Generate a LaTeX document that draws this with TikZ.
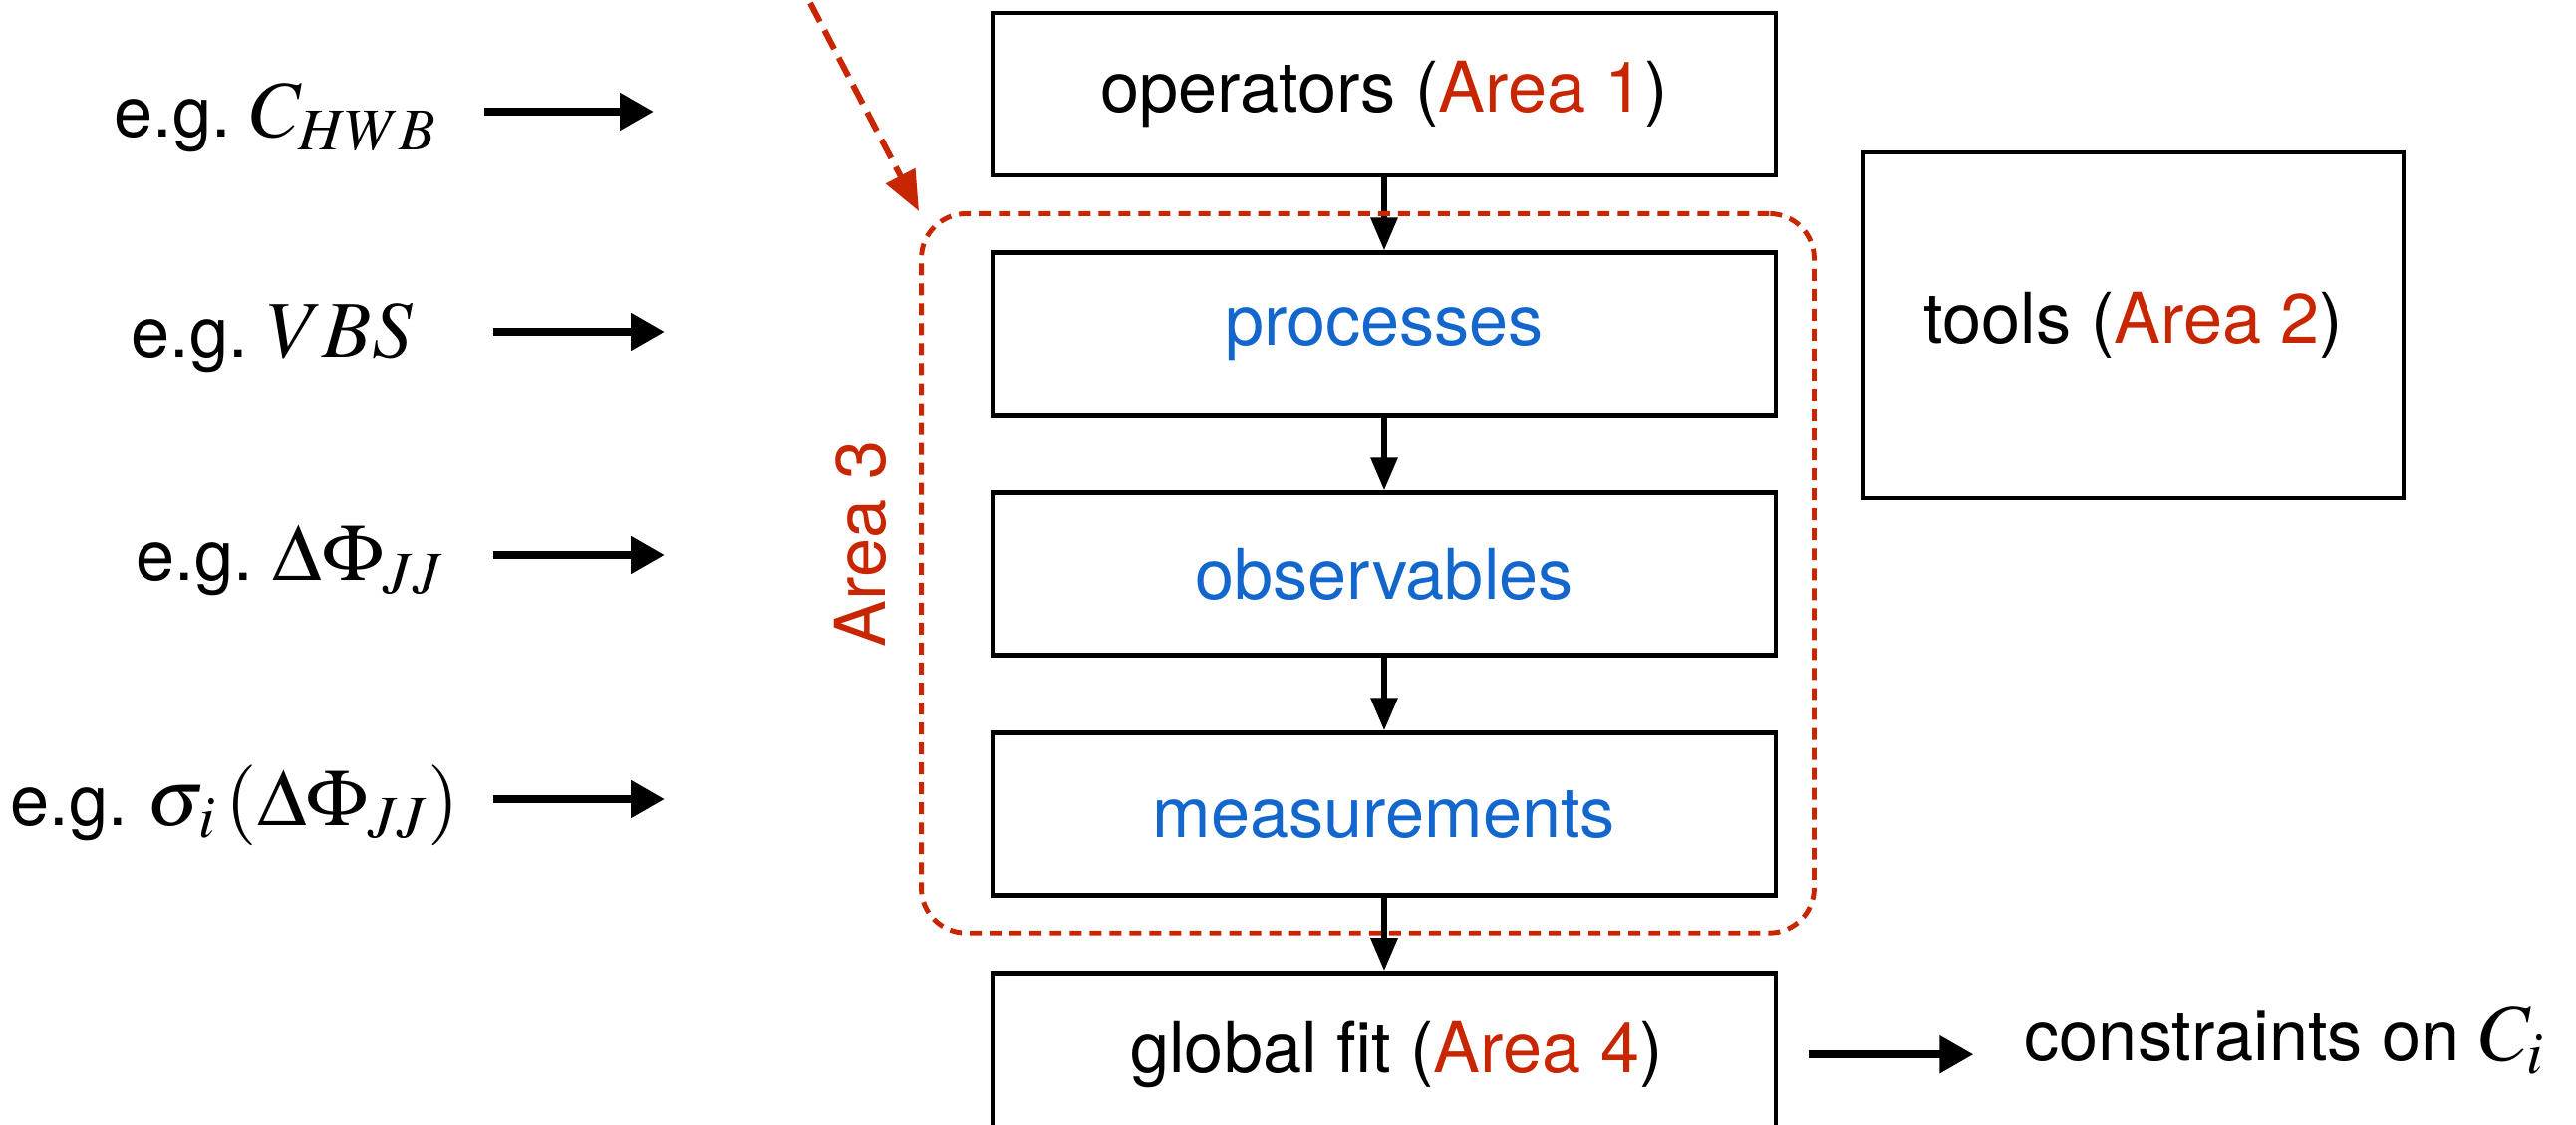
\documentclass[tikz,border=0pt]{standalone}
\usepackage{mathptmx}
\usepackage[no-math]{fontspec}
\setmainfont{TeX Gyre Heros}
\usepackage{tikz}
\usetikzlibrary{positioning,arrows.meta,calc,fit}
\definecolor{areared}{RGB}{200,38,0}
\definecolor{stepblue}{RGB}{18,102,204}
\newcommand{\bigmath}[1]{{\fontsize{23}{27}\selectfont$#1$}}

\begin{document}
\begin{tikzpicture}[every node/.style={font=\fontsize{20}{24}\selectfont},
	stepbox/.style={draw, line width=1.4pt, minimum width=7.86cm, minimum height=1.63cm, inner sep=0pt},
	flow/.style={line width=1.7pt, -{Triangle[length=0.33cm, width=0.26cm]}},
	feed/.style={line width=2.3pt, -{Triangle[length=0.34cm, width=0.36cm]}},
	example/.style={anchor=base east, inner sep=0pt},
	node distance=0.73cm]
	\useasboundingbox (0,0) rectangle (25.85,11.28);
	\node[stepbox] (ops) at (13.89,10.335) {operators (\textcolor{areared}{Area 1})};
	\node[stepbox, below=of ops] (proc) {\textcolor{stepblue}{processes}};
	\node[stepbox, below=of proc] (obs) {\textcolor{stepblue}{observables}};
	\node[stepbox, below=of obs] (meas) {\textcolor{stepblue}{measurements}};
	\node[stepbox, below=of meas] (fit) {\hspace{0.25cm}global fit (\textcolor{areared}{Area 4})};
	\node[stepbox, minimum width=5.42cm, minimum height=3.47cm] (tools) at (21.41,8.015) {tools (\textcolor{areared}{Area 2})};
	\foreach \a/\b in {ops/proc, proc/obs, obs/meas, meas/fit}
		\draw[flow] (\a) -- (\b);
	\coordinate (a3nw) at ($(proc.north west)+(-0.69,0.37)$);
	\coordinate (a3se) at ($(meas.south east)+(0.36,-0.35)$);
	\node[draw=areared, line width=1.4pt, dash pattern=on 3.4pt off 2.3pt, rounded corners=0.45cm, inner sep=0pt, fit=(a3nw)(a3se)] (area3) {};
	\node[areared, rotate=90] (a3label) at (8.63,5.82) {Area 3};
	\coordinate (hint) at (8.13,11.25);
	\draw[areared, line width=1.7pt, dash pattern=on 6pt off 2.8pt, -{Triangle[length=0.4cm, width=0.32cm]}] (hint) -- (area3.north west);
	\node[example] (ex1) at (4.40,9.90) {e.g.\ \bigmath{C_{HWB}}};
	\node[example] (ex2) at (4.15,7.69) {e.g.\ \bigmath{VBS}};
	\node[example] (ex3) at (4.46,5.45) {e.g.\ \bigmath{\Delta\Phi_{JJ}}};
	\node[example] (ex4) at (4.62,3.00) {e.g.\ \bigmath{\sigma_{\mkern1mu i}\,(\Delta\Phi_{JJ})}};
	\coordinate (in1s) at (4.86,10.16);
	\coordinate (in1e) at (6.56,10.16);
	\coordinate (in2s) at (4.95,7.95);
	\coordinate (in2e) at (6.67,7.95);
	\coordinate (in3s) at (4.95,5.71);
	\coordinate (in3e) at (6.67,5.71);
	\coordinate (in4s) at (4.95,3.26);
	\coordinate (in4e) at (6.67,3.26);
	\foreach \i in {1,...,4}
		\draw[feed] (in\i s) -- (in\i e);
	\node[anchor=base west, inner sep=0pt] (result) at (20.31,0.63) {constraints on \bigmath{C_i}};
	\coordinate (outtip) at ([xshift=1.96cm]fit.east);
	\draw[feed] ([xshift=0.31cm]fit.east) -- (outtip);
\end{tikzpicture}
\end{document}
